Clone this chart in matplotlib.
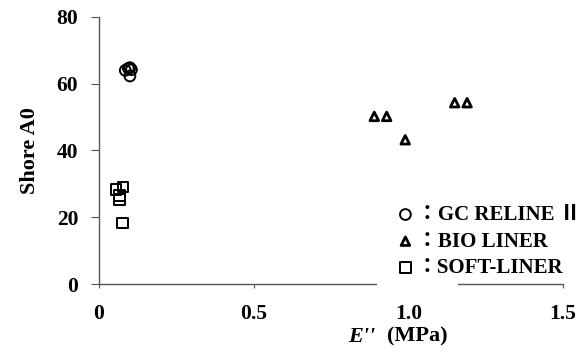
import matplotlib
matplotlib.use("Agg")
import matplotlib.pyplot as plt
from matplotlib.patches import Rectangle

plt.rcParams['font.family'] = ['Liberation Serif', 'Noto Sans CJK JP']
plt.rcParams['font.weight'] = 'bold'

# E'' (MPa) vs Shore A0
gc_x = [0.085, 0.095, 0.100, 0.105, 0.100]
gc_y = [64.0, 64.6, 64.8, 64.2, 62.3]
bio_x = [0.89, 0.93, 0.99, 1.15, 1.19]
bio_y = [50.2, 50.2, 43.2, 54.3, 54.3]
soft_x = [0.055, 0.078, 0.066, 0.066, 0.077]
soft_y = [28.3, 29.1, 26.5, 25.3, 18.3]
names = ['GC RELINE Ⅱ', 'BIO LINER', 'SOFT-LINER']
xticks = [0, 0.5, 1.0, 1.5]
xticklabels = ['0', '0.5', '1.0', '1.5']
yticks = [0, 20, 40, 60, 80]

fig = plt.figure(figsize=(5.84, 3.52), dpi=100)
ax = fig.add_axes([0.1695, 0.193, 0.7945, 0.759])

kw = dict(facecolor='none', edgecolor='black', zorder=3)
h1 = ax.scatter(gc_x, gc_y, marker='o', s=60, linewidths=1.4, **kw)
h2 = ax.scatter(bio_x, bio_y, marker='^', s=38, linewidths=2.0, **kw)
h3 = ax.scatter(soft_x, soft_y, marker='s', s=60, linewidths=1.4, **kw)

ax.set_xlim(0, 1.5)
ax.set_ylim(0, 80)
ax.set_xticks(xticks)
ax.set_xticklabels(xticklabels)
ax.set_yticks(yticks)
ax.tick_params(axis='x', direction='out', length=3, pad=11, labelsize=15.5, color='#555555')
ax.tick_params(axis='y', direction='out', length=6, pad=9, labelsize=15.5, color='#555555')
for s in ['top', 'right']:
    ax.spines[s].set_visible(False)
for s in ['left', 'bottom']:
    ax.spines[s].set_color('#555555')
    ax.spines[s].set_linewidth(1.0)

ax.set_ylabel('Shore A0', fontsize=16, fontweight='bold', labelpad=12)
ax.text(0.595, -0.198, "E''", transform=ax.transAxes, ha='right', va='center',
        fontsize=16, fontstyle='italic', fontweight='bold')
ax.text(0.620, -0.198, "(MPa)", transform=ax.transAxes, ha='left', va='center',
        fontsize=16, fontweight='bold')

# white patch that breaks the x axis line as in the original
ax.add_patch(Rectangle((0.599, -0.02), 0.175, 0.04, transform=ax.transAxes,
                       facecolor='white', edgecolor='none', clip_on=False, zorder=5))

ax.legend([h1, h2, h3], ['：' + n for n in names], loc='upper left',
          bbox_to_anchor=(0.62, 0.335), frameon=False, handlelength=0.8,
          handletextpad=0.15, labelspacing=0.32, borderpad=0,
          prop={'size': 15, 'weight': 'bold'})

fig.savefig('out.png', dpi=100)
